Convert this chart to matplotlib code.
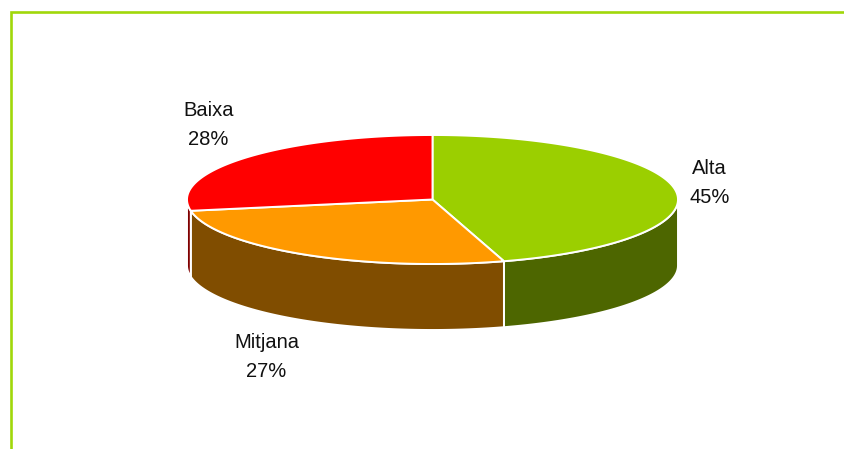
import numpy as np
import matplotlib
matplotlib.use('Agg')
from matplotlib import pyplot as plt

labels = ['Alta', 'Mitjana', 'Baixa']
values = [45.3, 26.9, 27.8]
top_colors = ['#9BCF00', '#FF9900', '#FF0000']
side_colors = ['#4D6600', '#804D00', '#800000']

plt.rcParams['font.family'] = ['Liberation Sans', 'DejaVu Sans']

cx, cy = 432.5, 199.5
rx, ry = 245.5, 64.5
depth = 66

fig = plt.figure(figsize=(8.45, 4.49), dpi=100)
ax = fig.add_axes([0, 0, 1, 1])
ax.set_xlim(0, 845)
ax.set_ylim(449, 0)
ax.axis('off')

# frame, only left and top are in the picture
ax.plot([11, 11, 845], [449, 11.5, 11.5], color='#A0D80A', lw=1.9, solid_joinstyle='miter')


def rim(a0, a1):
    # angles in degrees, clockwise from 12 o'clock
    t = np.radians(np.linspace(a0, a1, 200))
    return cx + rx * np.sin(t), cy - ry * np.cos(t)


edges = np.cumsum([0] + values) * 3.6

# side walls first, only the front half (90 to 270 deg) is visible
for i in range(len(values)):
    a0 = max(edges[i], 90)
    a1 = min(edges[i + 1], 270)
    if a1 <= a0:
        continue
    x, y = rim(a0, a1)
    xs = np.concatenate([x, x[::-1]])
    ys = np.concatenate([y, y[::-1] + depth])
    ax.fill(xs, ys, facecolor=side_colors[i], edgecolor='white', lw=1.4, zorder=2)

# top slices
for i in range(len(values)):
    x, y = rim(edges[i], edges[i + 1])
    xs = np.concatenate([[cx], x])
    ys = np.concatenate([[cy], y])
    ax.fill(xs, ys, facecolor=top_colors[i], edgecolor='white', lw=1.4, zorder=3, joinstyle='miter')

label_pos = [(709.5, 183), (266.5, 357), (208.5, 125)]
for name, v, (lx, ly) in zip(labels, values, label_pos):
    ax.text(lx, ly, '%s\n%d%%' % (name, round(v)), ha='center', va='center', fontsize=14.5,
            color='#111111', linespacing=1.68, zorder=5)

fig.savefig('out.png', dpi=100)
